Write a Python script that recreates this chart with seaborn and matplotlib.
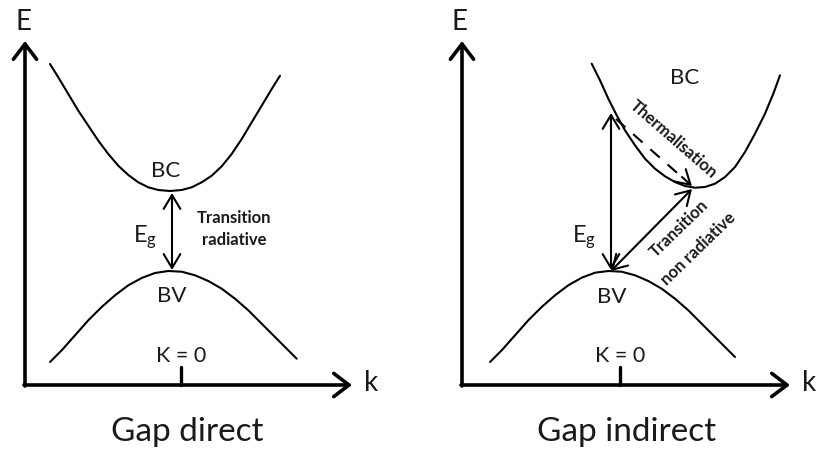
import numpy as np
import pandas as pd
import matplotlib
matplotlib.use("Agg")
import matplotlib.pyplot as plt
import seaborn as sns

# =============================================================================
# Points (coordonnees en pixels, y vers le bas)
# =============================================================================

# Gap direct : bande de conduction (BC) et bande de valence (BV)
bc_direct_x = [50, 58.3, 68.3, 78.3, 88.3, 98.3, 108.3, 118.3, 128.3, 138.3,
               148.3, 158.3, 170, 181.7, 191.7, 201.7, 211.7, 221.7, 231.7,
               241.7, 251.7, 261.7, 271.7, 280]
bc_direct_y = [65, 78.3, 95, 111.7, 126.7, 141.7, 155, 166.7, 176, 183.3,
               188.3, 191, 192, 191, 188.3, 183.3, 176.7, 167.3, 155,
               140, 123.3, 106.7, 90, 76.7]
bv_direct_x = [50, 61.7, 75, 88.3, 101.7, 115, 128.3, 141.7, 155, 168.3,
               181.7, 195, 208.3, 221.7, 235, 248.3, 261.7, 275, 288.3, 296.7]
bv_direct_y = [363, 351.3, 336.3, 321.3, 308, 296.3, 286.3, 279, 274, 272,
               272.7, 276.3, 282, 289.7, 299.7, 311.3, 324.7, 338, 351.3, 359.7]

# Gap indirect
bc_indirect_x = [591.7, 600, 608.3, 616.7, 625, 635, 645, 655, 665, 675, 685,
                 695, 705, 715, 725, 735, 745, 755, 765, 773.3, 780]
bc_indirect_y = [64.7, 81.3, 99.7, 116.3, 131.3, 146.3, 159.7, 169.7, 177.3,
                 183, 187, 188.7, 188, 184.7, 178, 168, 153, 134.7, 114.7,
                 94.7, 76.3]
bv_indirect_x = [490, 501.7, 515, 528.3, 541.7, 555, 568.3, 581.7, 595, 608.3,
                 621.7, 635, 648.3, 661.7, 675, 688.3, 701.7, 715, 728.3, 735]
bv_indirect_y = [363, 351.3, 336.3, 321.3, 308, 296.3, 286.3, 278.7, 273.7,
                 272, 272.7, 276.3, 282, 289.7, 299.7, 311.3, 324.7, 338,
                 351.3, 358]

panels = ["Gap direct", "Gap indirect"]
axis_origin_x = [25, 462]
axis_end_x = [352, 790]
k0_x = [181, 620]

# Transitions
direct_gap = [(172, 194), (172, 271)]
indirect_vertical = [(611, 114), (611, 271)]
indirect_nonrad = [(611, 272), (692, 190)]
thermal = [(616, 120), (692, 187)]

# =============================================================================
# Figure
# =============================================================================
sns.set_style("white")
plt.rcParams["font.family"] = ["Lato", "DejaVu Sans"]
plt.rcParams["text.color"] = "#1a1a1a"

fig = plt.figure(figsize=(8.18, 4.52), dpi=100)
ax = fig.add_axes([0, 0, 1, 1])
ax.set_xlim(0, 818)
ax.set_ylim(452, 0)
ax.axis("off")

curves = [
    ("BC", bc_direct_x, bc_direct_y),
    ("BV", bv_direct_x, bv_direct_y),
    ("BC", bc_indirect_x, bc_indirect_y),
    ("BV", bv_indirect_x, bv_indirect_y),
]
for name, xs, ys in curves:
    df = pd.DataFrame({"k": xs, "E": ys})
    sns.lineplot(data=df, x="k", y="E", sort=False, color="black",
                 linewidth=1.5, ax=ax, estimator=None)
ax.set_xlim(0, 818)
ax.set_ylim(452, 0)
ax.set_xlabel("")
ax.set_ylabel("")

axis_style = dict(arrowstyle="->,head_length=0.5,head_width=0.38",
                  lw=2.6, color="black", mutation_scale=22,
                  shrinkA=0, shrinkB=0)
for i, title in enumerate(panels):
    x0 = axis_origin_x[i]
    # axe E
    ax.annotate("", xy=(x0, 42), xytext=(x0, 387), arrowprops=axis_style)
    # axe k
    ax.annotate("", xy=(axis_end_x[i], 386), xytext=(x0 - 1, 386),
                arrowprops=axis_style)
    ax.text(x0 - 2, 22, "E", fontsize=20, ha="center", va="center")
    ax.text(axis_end_x[i] + 19, 383, "k", fontsize=20, ha="center",
            va="center")
    # graduation K = 0
    ax.plot([k0_x[i], k0_x[i]], [386, 368], color="black", lw=2.4)
    ax.text(k0_x[i], 356, "K = 0", fontsize=15.5, ha="center", va="center")
    ax.text([187, 627][i], 432, title, fontsize=24, ha="center",
            va="center")

arrow2 = dict(arrowstyle="<->,head_length=0.5,head_width=0.3",
              lw=1.5, color="black", mutation_scale=20,
              shrinkA=0, shrinkB=0)
arrow1 = dict(arrowstyle="->,head_length=0.5,head_width=0.3",
              lw=1.5, color="black", mutation_scale=20,
              shrinkA=0, shrinkB=0)

# Gap direct
ax.annotate("", xy=direct_gap[1], xytext=direct_gap[0], arrowprops=arrow2)
ax.text(166, 171, "BC", fontsize=16, ha="center", va="center")
ax.text(172, 296, "BV", fontsize=16, ha="center", va="center")
ax.text(145, 237, r"$\mathregular{E_g}$", fontsize=17, ha="center",
        va="center")
ax.text(234, 218, "Transition", fontsize=12, fontweight="bold",
        ha="center", va="center")
ax.text(234, 240, "radiative", fontsize=12, fontweight="bold",
        ha="center", va="center")

# Gap indirect
ax.annotate("", xy=indirect_vertical[1], xytext=indirect_vertical[0],
            arrowprops=arrow2)
ax.annotate("", xy=indirect_nonrad[1], xytext=indirect_nonrad[0],
            arrowprops=arrow2)
(tx0, ty0), (tx1, ty1) = thermal
ax.plot([tx0, tx1 - 8], [ty0, ty1 - 7], color="black", lw=1.5,
        linestyle=(0, (6, 5)))
ax.annotate("", xy=(tx1, ty1), xytext=(tx1 - 10, ty1 - 9), arrowprops=arrow1)

ax.text(685, 78, "BC", fontsize=16, ha="center", va="center")
ax.text(612, 297, "BV", fontsize=16, ha="center", va="center")
ax.text(584, 237, r"$\mathregular{E_g}$", fontsize=17, ha="center",
        va="center")
ax.text(673, 139, "Thermalisation", fontsize=12, fontweight="bold",
        rotation=-41, ha="center", va="center", rotation_mode="anchor")
ax.text(679, 229, "Transition", fontsize=12, fontweight="bold",
        rotation=44, ha="center", va="center", rotation_mode="anchor")
ax.text(698, 249, "non radiative", fontsize=12, fontweight="bold",
        rotation=44, ha="center", va="center", rotation_mode="anchor")

fig.savefig("out.png", dpi=100, facecolor="white")
